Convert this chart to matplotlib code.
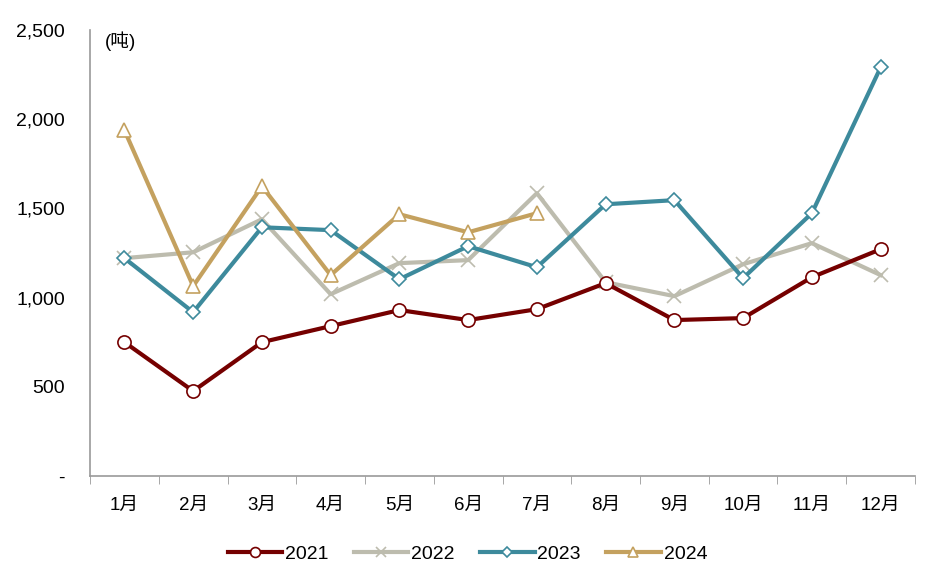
import matplotlib
matplotlib.use("Agg")
import matplotlib.pyplot as plt
from matplotlib.ticker import FuncFormatter

plt.rcParams['font.family'] = ['Liberation Sans', 'Noto Sans CJK SC', 'DejaVu Sans']

months = ["1月", "2月", "3月", "4月", "5月", "6月", "7月", "8月", "9月", "10月", "11月", "12月"]
y2021 = [750, 476, 750, 840, 930, 874, 935, 1081, 874, 885, 1114, 1271]
y2022 = [1221, 1254, 1439, 1019, 1193, 1210, 1585, 1086, 1008, 1187, 1305, 1126]
y2023 = [1221, 918, 1394, 1378, 1103, 1288, 1170, 1523, 1546, 1109, 1473, 2290]
y2024 = [1938, 1064, 1624, 1126, 1467, 1366, 1473]

fig = plt.figure(figsize=(9.35, 5.76), dpi=100)
ax = fig.add_axes([0.0963, 0.1736, 0.8823, 0.7744])

x = list(range(len(months)))
ax.plot(x, y2021, color='#750000', lw=3, marker='o', ms=9.5, mfc='white', mec='#750000', mew=1.2, label='2021', zorder=3)
ax.plot(x, y2022, color='#BDBCAE', lw=3, marker='x', ms=10, mec='#BDBCAE', mew=1.2, label='2022', zorder=2)
ax.plot(x, y2023, color='#3D8A9C', lw=3, marker='D', ms=7, mfc='white', mec='#3D8A9C', mew=1.2, label='2023', zorder=4)
ax.plot(x[:len(y2024)], y2024, color='#C4A15F', lw=3, marker='^', ms=10.5, mfc='white', mec='#C4A15F', mew=1.2, label='2024', zorder=5)

ax.set_xlim(-0.5, 11.5)
ax.set_ylim(0, 2500)
ax.set_yticks([0, 500, 1000, 1500, 2000, 2500])
ax.yaxis.set_major_formatter(FuncFormatter(lambda v, p: '-' if v == 0 else f'{int(v):,}'))
ax.set_xticks(x)
ax.set_xticklabels(months)
ax.set_xticks([i - 0.5 for i in range(13)], minor=True)
ax.tick_params(axis='x', which='major', length=0, pad=15, labelsize=13.5)
ax.tick_params(axis='x', which='minor', length=6, color='#999999', direction='out')
ax.tick_params(axis='y', length=0, pad=18, labelsize=14)

for s in ['top', 'right']:
    ax.spines[s].set_visible(False)
for s in ['left', 'bottom']:
    ax.spines[s].set_color('#999999')
    ax.spines[s].set_linewidth(1.2)

ax.text(0.018, 0.975, '(吨)', transform=ax.transAxes, fontsize=13.5, va='center', ha='left')

fig.legend(loc='lower center', bbox_to_anchor=(0.5, -0.008), ncol=4, frameon=False,
           fontsize=14, handlelength=2.8, handletextpad=0.15, columnspacing=1.3, markerscale=0.75)

fig.savefig('out.png', dpi=100)
